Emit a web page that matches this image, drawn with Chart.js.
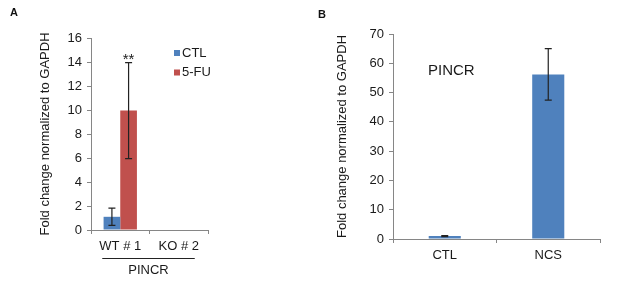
<!DOCTYPE html>
<html><head><meta charset="utf-8">
<script src="https://cdn.jsdelivr.net/npm/chart.js@4.4.0/dist/chart.umd.min.js"></script>
<style>
html,body{margin:0;padding:0;background:#fff;}
#wrap{position:relative;width:617px;height:287px;overflow:hidden;font-family:'Liberation Sans',Arial,sans-serif;}
.box{position:absolute;top:0;height:287px;}
.lbl{position:absolute;font-weight:bold;font-size:11px;color:#111;}
</style></head>
<body>
<div id="wrap">
  <div class="box" style="left:0;width:310px;"><canvas id="cA" width="310" height="287"></canvas></div>
  <div class="box" style="left:310px;width:307px;"><canvas id="cB" width="307" height="287"></canvas></div>
  <div class="lbl" style="left:10px;top:6px;">A</div>
  <div class="lbl" style="left:318px;top:8px;">B</div>
</div>
<script>
// ---- Data, panel A ----
const groupsA = ['WT # 1', 'KO # 2'];
const seriesNamesA = ['CTL', '5-FU'];
const ctlA = [1.1, 0];
const ctlErrA = [0.72, 0];
const fuA = [9.95, 0];
const fuErrA = [4.0, 0];
const yTicksA = {min: 0, max: 16, step: 2};
const groupTitleA = 'PINCR';
const signifA = '**';
// ---- Data, panel B ----
const groupsB = ['CTL', 'NCS'];
const valsB = [1.0, 56.2];
const errB = [0.2, 8.8];
const yTicksB = {min: 0, max: 70, step: 10};
const titleB = 'PINCR';
const yTitle = 'Fold change normalized to GAPDH';

const FONT = "'Liberation Sans', Arial, sans-serif";
const BLUE = '#4F81BD', RED = '#C0504D', AXIS = '#868686', TXT = '#1a1a1a';

const errorBars = {
  id: 'errorBars',
  afterDatasetsDraw(chart, args, opts) {
    const ctx = chart.ctx, y = chart.scales.y;
    chart.data.datasets.forEach((ds, i) => {
      const meta = chart.getDatasetMeta(i);
      meta.data.forEach((bar, j) => {
        const e = ds.errors ? ds.errors[j] : 0;
        if (!e) return;
        const v = ds.data[j];
        const yt = y.getPixelForValue(v + e), yb = y.getPixelForValue(Math.max(v - e, 0));
        ctx.save();
        ctx.strokeStyle = '#222'; ctx.lineWidth = 1.2;
        ctx.beginPath();
        ctx.moveTo(bar.x, yt); ctx.lineTo(bar.x, yb);
        ctx.moveTo(bar.x - 3.5, yt); ctx.lineTo(bar.x + 3.5, yt);
        ctx.moveTo(bar.x - 3.5, yb); ctx.lineTo(bar.x + 3.5, yb);
        ctx.stroke();
        if (ds.marks && ds.marks[j]) {
          ctx.fillStyle = TXT; ctx.font = '15px ' + FONT;
          ctx.textAlign = 'center'; ctx.textBaseline = 'alphabetic';
          ctx.fillText(ds.marks[j], bar.x, yt + 1);
        }
        ctx.restore();
      });
    });
  }
};

const extrasA = {
  id: 'extrasA',
  afterDraw(chart) {
    const ctx = chart.ctx, x = chart.scales.x;
    ctx.save();
    // legend
    ctx.font = '13px ' + FONT; ctx.textBaseline = 'middle'; ctx.textAlign = 'left';
    chart.data.datasets.forEach((ds, i) => {
      const ly = 53 + i * 19.5;
      ctx.fillStyle = ds.backgroundColor;
      ctx.fillRect(174, ly - 3, 6, 6);
      ctx.fillStyle = TXT;
      ctx.fillText(ds.label, 182, ly);
    });
    // group line + title
    const xl = x.getPixelForValue(0) - 18, xr = x.getPixelForValue(1) + 16;
    ctx.strokeStyle = '#222'; ctx.lineWidth = 1;
    ctx.beginPath(); ctx.moveTo(xl, 258.5); ctx.lineTo(xr, 258.5); ctx.stroke();
    ctx.textAlign = 'center';
    ctx.fillText(groupTitleA, (xl + xr) / 2, 270);
    ctx.restore();
  }
};

const extrasB = {
  id: 'extrasB',
  afterDraw(chart) {
    const ctx = chart.ctx;
    ctx.save();
    ctx.font = '15px ' + FONT; ctx.fillStyle = TXT;
    ctx.textAlign = 'left'; ctx.textBaseline = 'middle';
    ctx.fillText(titleB, 118, 71);
    ctx.restore();
  }
};

function axes(yt, yWidth, xHeight) {
  return {
    x: {
      grid: {drawOnChartArea: false, drawTicks: true, tickLength: 4, color: AXIS, offset: true},
      border: {display: true, color: AXIS, width: 1},
      ticks: {color: TXT, font: {family: FONT, size: 13}, padding: 5, maxRotation: 0},
      afterFit(s) { s.height = xHeight; }
    },
    y: {
      min: yt.min, max: yt.max,
      grid: {drawOnChartArea: false, drawTicks: true, tickLength: 4, color: AXIS},
      border: {display: true, color: AXIS, width: 1},
      ticks: {stepSize: yt.step, color: TXT, font: {family: FONT, size: 13}, padding: 5},
      title: {display: true, text: yTitle, color: TXT, font: {family: FONT, size: 13}, padding: {top: 0, bottom: 0}},
      afterFit(s) { s.width = yWidth; }
    }
  };
}

Chart.defaults.font.family = FONT;

new Chart(document.getElementById('cA'), {
  type: 'bar',
  data: {
    labels: groupsA,
    datasets: [
      {label: seriesNamesA[0], data: ctlA, errors: ctlErrA, backgroundColor: BLUE, borderWidth: 0},
      {label: seriesNamesA[1], data: fuA, errors: fuErrA, marks: [signifA, ''], backgroundColor: RED, borderWidth: 0}
    ]
  },
  options: {
    responsive: false, animation: false, devicePixelRatio: 1,
    layout: {padding: {left: 38, right: 102, top: 38, bottom: 0}},
    datasets: {bar: {barPercentage: 1, categoryPercentage: 0.57}},
    plugins: {legend: {display: false}, tooltip: {enabled: false}},
    scales: axes(yTicksA, 53, 57)
  },
  plugins: [errorBars, extrasA]
});

new Chart(document.getElementById('cB'), {
  type: 'bar',
  data: {
    labels: groupsB,
    datasets: [
      {label: titleB, data: valsB, errors: errB, backgroundColor: BLUE, borderWidth: 0}
    ]
  },
  options: {
    responsive: false, animation: false, devicePixelRatio: 1,
    layout: {padding: {left: 25, right: 17, top: 34, bottom: 0}},
    datasets: {bar: {barPercentage: 0.31, categoryPercentage: 1}},
    plugins: {legend: {display: false}, tooltip: {enabled: false}},
    scales: axes(yTicksB, 58, 48)
  },
  plugins: [errorBars, extrasB]
});
</script>
</body></html>
